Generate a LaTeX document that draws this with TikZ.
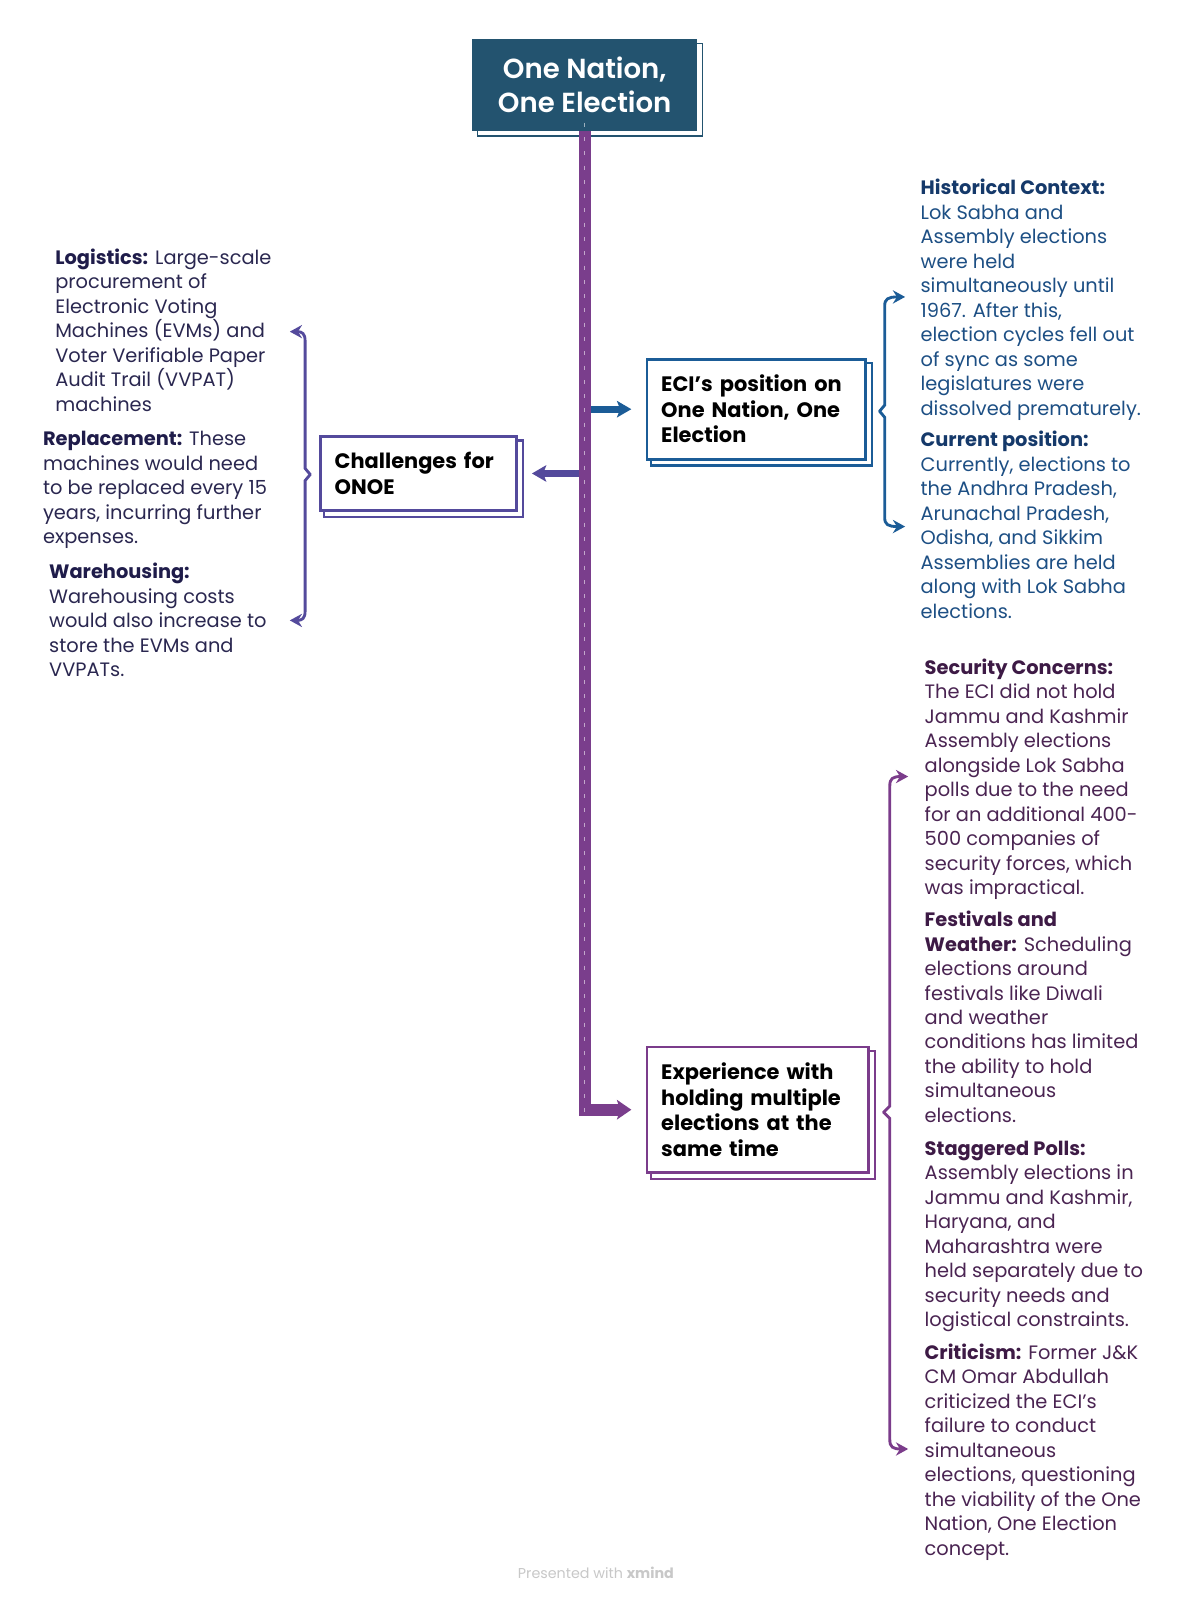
\documentclass[tikz,border=0pt]{standalone}
\usepackage{fontspec}
\setmainfont{Poppins}
\newfontface\titlefont{Poppins SemiBold}
\usetikzlibrary{arrows.meta,backgrounds}
\definecolor{titlefill}{HTML}{23536F}
\definecolor{trunkcol}{HTML}{7A3E8C}
\definecolor{bluecol}{HTML}{1B5C97}
\definecolor{indcol}{HTML}{544A9C}
\definecolor{purpcol}{HTML}{7B3C8B}
\definecolor{ltext}{HTML}{2A2750}
\definecolor{lhead}{HTML}{1F1C4A}
\definecolor{btext}{HTML}{1D4F84}
\definecolor{bhead}{HTML}{15396A}
\definecolor{ptext}{HTML}{4A2452}
\definecolor{phead}{HTML}{3D1A45}
\definecolor{footcol}{HTML}{C8C8C8}
\newcommand{\lh}[1]{\textcolor{lhead}{\textbf{#1}}}
\newcommand{\bh}[1]{\textcolor{bhead}{\textbf{#1}}}
\newcommand{\ph}[1]{\textcolor{phead}{\textbf{#1}}}
\tikzset{
  para/.style={anchor=north west, inner sep=0pt, align=left, font=\fontsize{19}{24}\selectfont},
  lpara/.style={para, text=ltext},
  bpara/.style={para, text=btext},
  ppara/.style={para, text=ptext},
  topicbox/.style={draw=#1, line width=2.6pt, fill=white, rectangle, align=left,
    inner xsep=14pt, inner ysep=0pt, font=\fontsize{20.5}{25}\selectfont\bfseries, text=black},
  shadowframe/.style={draw=#1, line width=2.2pt, fill=white},
  branch/.style={line width=6.5pt, draw=#1, shorten >=14pt,
    -{Stealth[length=14pt,width=16pt,inset=3pt]}},
  bracket/.style={draw=#1, line width=2.8pt, line cap=round,
    -{Stealth[length=12pt,width=13pt,inset=4pt]}},
}
\begin{document}
\begin{tikzpicture}[x=1pt,y=-1pt]
\useasboundingbox (0,0) rectangle (1170,1568);

% title
\node[fill=titlefill, text=white, minimum width=220pt, minimum height=90pt, inner sep=0pt,
      align=center, font=\fontsize{27}{33}\titlefont] (title) at (573,83)
      {One Nation,\\One Election};

% topic boxes
\node[topicbox=bluecol, text width=186pt, minimum height=98pt] (eci) at (741,401)
  {ECI’s position on\\One Nation, One\\Election};
\node[topicbox=indcol, text width=164pt, minimum height=72pt] (chal) at (410,464)
  {Challenges for\\ONOE};
\node[topicbox=purpcol, text width=189pt, minimum height=123pt] (exp) at (742.5,1087.5)
  {Experience with\\holding multiple\\elections at the\\same time};

\begin{pgfonlayer}{background}
  \fill[white] (0,0) rectangle (1170,1568);
  \draw[draw=titlefill, line width=1.4pt, fill=white]
    ([shift={(5,5)}]title.north west) rectangle ([shift={(5,5)}]title.south east);
  \draw[shadowframe=bluecol]
    ([shift={(5,5)}]eci.north west) rectangle ([shift={(5,5)}]eci.south east);
  \draw[shadowframe=indcol]
    ([shift={(5,5)}]chal.north west) rectangle ([shift={(5,5)}]chal.south east);
  \draw[shadowframe=purpcol]
    ([shift={(5,5)}]exp.north west) rectangle ([shift={(5,5)}]exp.south east);
\end{pgfonlayer}

% trunk
\coordinate (j1) at (title.south |- eci.west);
\coordinate (j2) at (title.south |- chal.east);
\coordinate (tb) at (title.south |- exp.west);
\draw[branch=bluecol] (j1) -- (eci.west);
\draw[branch=indcol] (j2) -- (chal.east);
\draw[draw=trunkcol, line width=12pt, line join=miter, shorten >=14pt,
      -{Stealth[length=14pt,width=19pt,inset=3pt]}]
  (title.south) -- (tb) -- (exp.west);
\draw[white, opacity=0.55, line width=1.2pt, dash pattern=on 4pt off 10pt]
  ([yshift=8pt]title.south) -- ([yshift=-8pt]tb);

% brackets
\coordinate (lc) at (304,465);
\coordinate (lt) at (284,325);
\coordinate (lb) at (284,608);
\draw[bracket=indcol] (lc) -- (299,459) -- (299,334) .. controls (299,327) and (296,325) .. (lt);
\draw[bracket=indcol] (lc) -- (299,471) -- (299,599) .. controls (299,606) and (296,608) .. (lb);

\coordinate (bc) at (862,403);
\coordinate (bt) at (887,291);
\coordinate (bb) at (887,516);
\draw[bracket=bluecol] (bc) -- (867,397) -- (867,300) .. controls (867,293) and (870,291) .. (bt);
\draw[bracket=bluecol] (bc) -- (867,409) -- (867,507) .. controls (867,514) and (870,516) .. (bb);

\coordinate (pc) at (866,1090);
\coordinate (pt) at (890,761);
\coordinate (pb) at (890,1420);
\draw[bracket=purpcol] (pc) -- (872,1084) -- (872,770) .. controls (872,763) and (875,761) .. (pt);
\draw[bracket=purpcol] (pc) -- (872,1096) -- (872,1411) .. controls (872,1418) and (875,1420) .. (pb);

% left texts
\node[lpara] (t1) at (54,242) {\strut\lh{Logistics:} Large-scale\\procurement of\\Electronic Voting\\Machines (EVMs) and\\Voter Verifiable Paper\\Audit Trail (VVPAT)\\machines};
\node[lpara] (t2) at (42,420) {\strut\lh{Replacement:} These\\machines would need\\to be replaced every 15\\years, incurring further\\expenses.};
\node[lpara] (t3) at (48,550) {\strut\lh{Warehousing:}\\Warehousing costs\\would also increase to\\store the EVMs and\\VVPATs.};

% right top texts
\node[bpara] (t4) at (902,174) {\strut\bh{Historical Context:}\\Lok Sabha and\\Assembly elections\\were held\\simultaneously until\\1967. After this,\\election cycles fell out\\of sync as some\\legislatures were\\dissolved prematurely.};
\node[bpara] (t5) at (902,421) {\strut\bh{Current position:}\\Currently, elections to\\the Andhra Pradesh,\\Arunachal Pradesh,\\Odisha, and Sikkim\\Assemblies are held\\along with Lok Sabha\\elections.};

% right bottom texts
\node[ppara] (t6) at (906,644) {\strut\ph{Security Concerns:}\\The ECI did not hold\\Jammu and Kashmir\\Assembly elections\\alongside Lok Sabha\\polls due to the need\\for an additional 400-\\500 companies of\\security forces, which\\was impractical.};
\node[ppara] (t7) at (906,891) {\strut\ph{Festivals and}\\\ph{Weather:} Scheduling\\elections around\\festivals like Diwali\\and weather\\conditions has limited\\the ability to hold\\simultaneous\\elections.};
\node[ppara] (t8) at (906,1115) {\strut\ph{Staggered Polls:}\\Assembly elections in\\Jammu and Kashmir,\\Haryana, and\\Maharashtra were\\held separately due to\\security needs and\\logistical constraints.};
\node[ppara] (t9) at (906,1315) {\strut\ph{Criticism:} Former J\&K\\CM Omar Abdullah\\criticized the ECI's\\failure to conduct\\simultaneous\\elections, questioning\\the viability of the One\\Nation, One Election\\concept.};

% footer
\node[text=footcol, font=\fontsize{14}{16}\selectfont, inner sep=0pt] (foot) at (584,1541)
  {Presented with \textbf{xmind}};
\end{tikzpicture}
\end{document}
